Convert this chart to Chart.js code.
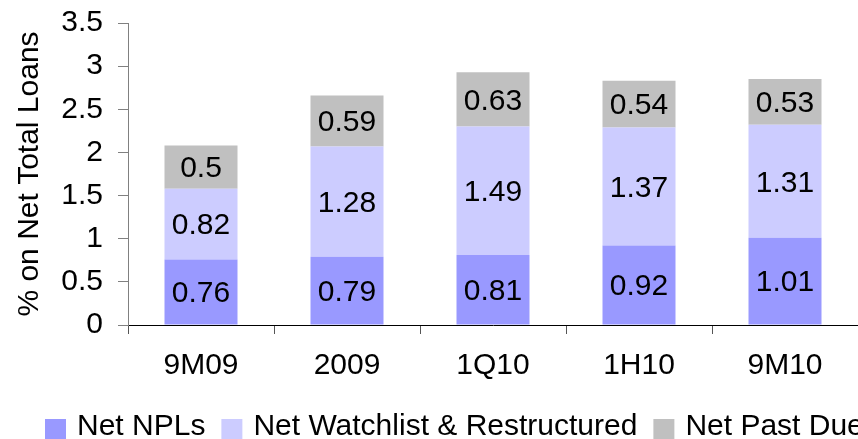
<!DOCTYPE html>
<html>
<head>
<meta charset="utf-8">
<script src="https://cdn.jsdelivr.net/npm/chart.js@4/dist/chart.umd.min.js"></script>
<style>
html,body{margin:0;padding:0;background:#fff;overflow:hidden;}
#wrap{width:858px;height:439px;}
</style>
</head>
<body>
<div id="wrap"><canvas id="c" width="858" height="439"></canvas></div>
<script>
const categories = ['9M09', '2009', '1Q10', '1H10', '9M10'];
const netNPLs = [0.76, 0.79, 0.81, 0.92, 1.01];
const netWatchlist = [0.82, 1.28, 1.49, 1.37, 1.31];
const netPastDue = [0.5, 0.59, 0.63, 0.54, 0.53];
const seriesNames = ['Net NPLs', 'Net Watchlist & Restructured', 'Net Past Due'];
const yTitle = '% on Net Total Loans';

const FONT = '"Liberation Sans", Arial, Helvetica, sans-serif';
const FS = 30;

const valueLabels = {
  id: 'valueLabels',
  afterDatasetsDraw(chart) {
    const ctx = chart.ctx;
    ctx.save();
    ctx.font = FS + 'px ' + FONT;
    ctx.fillStyle = '#000';
    ctx.textAlign = 'center';
    ctx.textBaseline = 'middle';
    chart.data.datasets.forEach((ds, i) => {
      const meta = chart.getDatasetMeta(i);
      meta.data.forEach((bar, j) => {
        const y = (bar.y + bar.base) / 2;
        ctx.fillText(String(ds.data[j]), bar.x, y + 2);
      });
    });
    ctx.restore();
  }
};

const customLegend = {
  id: 'customLegend',
  afterDraw(chart) {
    const ctx = chart.ctx;
    ctx.save();
    ctx.font = FS + 'px ' + FONT;
    ctx.textBaseline = 'alphabetic';
    ctx.textAlign = 'left';
    let x = 45;
    const boxTop = 419, box = 21, baseline = 435;
    chart.data.datasets.forEach(ds => {
      ctx.fillStyle = ds.backgroundColor;
      ctx.fillRect(x, boxTop, box, box);
      x += box + 11;
      ctx.fillStyle = '#000';
      ctx.fillText(ds.label, x, baseline);
      x += ctx.measureText(ds.label).width + 16;
    });
    ctx.restore();
  }
};

new Chart(document.getElementById('c'), {
  type: 'bar',
  data: {
    labels: categories,
    datasets: [
      { label: seriesNames[0], data: netNPLs, backgroundColor: '#9999FF' },
      { label: seriesNames[1], data: netWatchlist, backgroundColor: '#CCCCFF' },
      { label: seriesNames[2], data: netPastDue, backgroundColor: '#C0C0C0' }
    ]
  },
  options: {
    responsive: false,
    devicePixelRatio: 1,
    animation: false,
    barPercentage: 0.5,
    categoryPercentage: 1.0,
    layout: { padding: { top: 23, right: 0, left: 0, bottom: 0 } },
    plugins: { legend: { display: false }, tooltip: { enabled: false } },
    scales: {
      x: {
        stacked: true,
        grid: { display: true, drawOnChartArea: false, offset: true, tickLength: 9, color: '#555', tickColor: '#555' },
        border: { display: true, color: '#000', width: 1 },
        ticks: { font: { family: FONT, size: FS }, color: '#000', padding: 14, maxRotation: 0 },
        afterFit(scale) { scale.height = 114; scale.paddingLeft = 0; scale.paddingRight = 0; }
      },
      y: {
        stacked: true,
        min: 0, max: 3.5,
        grid: { display: true, drawOnChartArea: false, tickLength: 10, tickColor: '#808080' },
        border: { display: true, color: '#808080', width: 1 },
        ticks: { stepSize: 0.5, font: { family: FONT, size: FS }, color: '#000', padding: 15,
                 callback: v => String(v) },
        title: { display: true, text: yTitle, font: { family: FONT, size: FS }, color: '#000', padding: { top: 12, bottom: 0 } },
        afterFit(scale) { scale.width = 128; scale.paddingTop = 0; scale.paddingBottom = 0; }
      }
    }
  },
  plugins: [valueLabels, customLegend]
});
</script>
</body>
</html>
